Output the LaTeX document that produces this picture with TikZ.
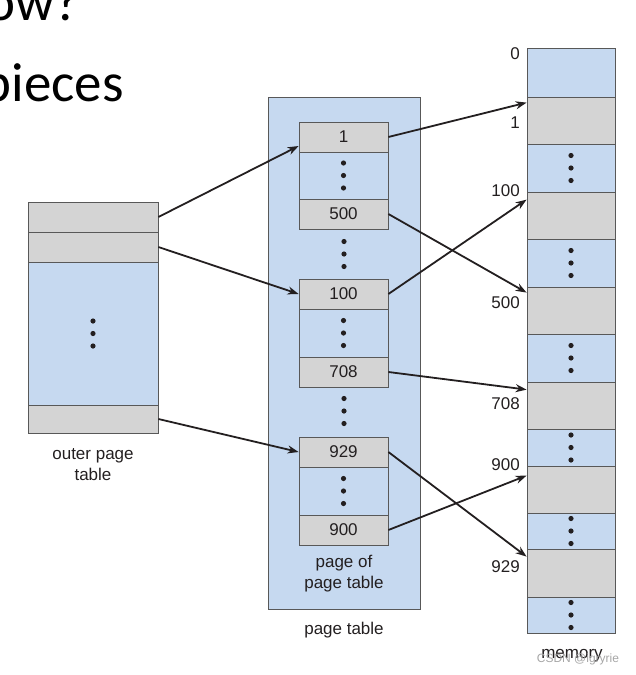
\documentclass[tikz,border=0pt]{standalone}
\usepackage{fontspec}
\setmainfont{Liberation Sans}
\newfontfamily\slidefont{Carlito}
\usetikzlibrary{arrows.meta}
\definecolor{cellblue}{RGB}{198,217,240}
\definecolor{cellgray}{RGB}{212,212,212}
\definecolor{linegray}{RGB}{88,88,88}
\definecolor{inkblack}{RGB}{35,31,32}

\begin{document}
\begin{tikzpicture}[x=1pt,y=-1pt,>={Stealth[length=11pt,width=8pt]},
  cell node/.style={draw=linegray,line width=0.8pt,inner sep=0pt,text=inkblack,
    font=\fontsize{17}{20}\selectfont},
  gray node/.style={cell node,fill=cellgray},
  blue node/.style={cell node,fill=cellblue},
  label node/.style={text=inkblack,inner sep=0pt,align=center,
    font=\fontsize{17}{21}\selectfont},
  link/.style={draw=inkblack,->,line width=1.8pt},
  vdots/.pic={\fill[inkblack] (0,-12.5) circle (2.6pt) (0,0) circle (2.6pt)
    (0,12.5) circle (2.6pt);}]

\useasboundingbox (0,0) rectangle (636,675);

% slide text behind the figure
\begin{scope}
\clip (0,0) rectangle (636,675);
\node[anchor=base east,inner sep=0pt,font=\slidefont\fontsize{55}{55}\selectfont] (slidea) at (80,20) {ow?};
\node[anchor=base east,inner sep=0pt,font=\slidefont\fontsize{55}{55}\selectfont] (slideb) at (124,101) {pieces};
\end{scope}

% outer page table
\node[gray node,minimum width=130pt,minimum height=30pt] (o1) at (93,217) {};
\node[gray node,minimum width=130pt,minimum height=30pt] (o2) at (93,247) {};
\node[blue node,minimum width=130pt,minimum height=143pt] (o3) at (93,333.5) {};
\node[gray node,minimum width=130pt,minimum height=28pt] (o4) at (93,419) {};
\pic at (o3) {vdots};
\node[label node] (outerlbl) at (93,465) {outer page\\table};

% page table
\node[blue node,minimum width=152pt,minimum height=512pt] (pt) at (344,353) {};
\node[label node] (ptlbl) at (344,630) {page table};

\node[gray node,minimum width=89pt,minimum height=30pt] (p1) at (343.5,137) {1};
\node[blue node,minimum width=89pt,minimum height=47pt] (pa) at (343.5,175.5) {};
\node[gray node,minimum width=89pt,minimum height=30pt] (p500) at (343.5,214) {500};
\node[gray node,minimum width=89pt,minimum height=30pt] (p100) at (343.5,294) {100};
\node[blue node,minimum width=89pt,minimum height=48pt] (pb) at (343.5,333) {};
\node[gray node,minimum width=89pt,minimum height=30pt] (p708) at (343.5,372) {708};
\node[gray node,minimum width=89pt,minimum height=30pt] (p929) at (343.5,452) {929};
\node[blue node,minimum width=89pt,minimum height=48pt] (pc) at (343.5,491) {};
\node[gray node,minimum width=89pt,minimum height=30pt] (p900) at (343.5,530) {900};
\foreach \n in {pa,pb,pc} \pic at (\n) {vdots};
\pic at (344,254) {vdots};
\pic at (344,411) {vdots};
\node[label node] (pglbl) at (344,574) {page of\\page table};

% memory
\foreach \a/\b/\col [count=\i from 0] in {48/97/cellblue,97/144/cellgray,
  144/192/cellblue,192/239/cellgray,239/287/cellblue,287/334/cellgray,
  334/382/cellblue,382/429/cellgray,429/466/cellblue,466/513/cellgray,
  513/549/cellblue,549/597/cellgray,597/633/cellblue}
  \node[cell node,fill=\col,minimum width=88pt,minimum height={(\b-\a)*1pt}]
    (m\i) at (571,{(\a+\b)/2}) {};
\foreach \i in {2,4,...,12} \pic at (m\i) {vdots};
\node[label node] (memlbl) at (572,656) {memory};

\node[label node,anchor=east] (a0) at (520,54) {0};
\node[label node,anchor=east] (a1) at (520,123) {1};
\node[label node,anchor=east] (a100) at (520,191) {100};
\node[label node,anchor=east] (a500) at (520,303) {500};
\node[label node,anchor=east] (a708) at (520,404) {708};
\node[label node,anchor=east] (a900) at (520,465) {900};
\node[label node,anchor=east] (a929) at (520,567) {929};

\node[text=black!35,inner sep=0pt,font=\fontsize{12}{12}\selectfont] (wm) at (578,659) {CSDN @igryrie};

% pointers
\path[every edge/.style={link}]
(o1.east) edge ([yshift=-9pt]p1.west)
(o2.east) edge (p100.west)
(o4.east) edge (p929.west)
(p1.east) edge ([yshift=-6pt]m1.north west)
(p500.east) edge ([yshift=-6pt]m5.north west)
(p100.east) edge ([yshift=-8pt]m3.north west)
(p708.east) edge ([yshift=-8pt]m7.north west)
(p929.east) edge ([yshift=-8pt]m11.north west)
(p900.east) edge ([yshift=-10pt]m9.north west);

\end{tikzpicture}
\end{document}
